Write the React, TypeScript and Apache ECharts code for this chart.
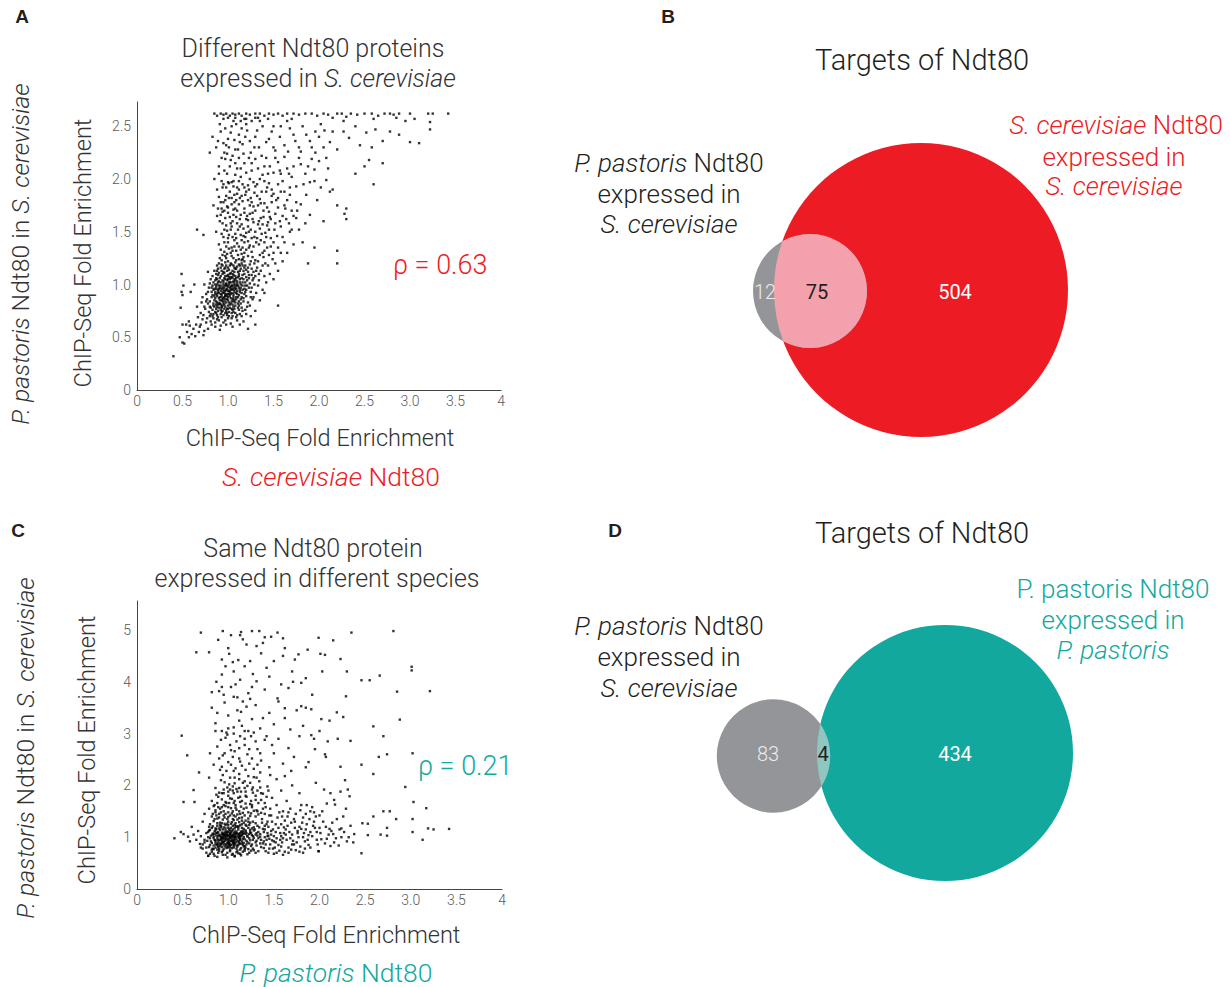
import React, { useEffect, useRef } from "react";
import * as echarts from "echarts";

// ---------- Panel A: S. cerevisiae Ndt80 (x) vs P. pastoris Ndt80 in S. cerevisiae (y)
const aCore: number[][] = [
[0.78,0.58],[0.82,0.62],[0.86,0.60],[0.90,0.66],[0.84,0.68],[0.95,0.64],[0.80,0.70],[0.88,0.71],[0.93,0.69],[1.00,0.68],[1.05,0.70],[0.98,0.62],[0.76,0.64],[0.72,0.67],[1.10,0.66],[0.91,0.57],[0.69,0.60],[0.74,0.56],
[0.79,0.74],[0.83,0.76],[0.87,0.73],[0.90,0.78],[0.94,0.75],[0.97,0.79],[1.01,0.74],[1.04,0.77],[1.08,0.73],[1.12,0.76],[0.85,0.79],[0.92,0.72],[0.99,0.71],[1.06,0.79],[0.81,0.72],[0.75,0.77],[0.89,0.75],[0.96,0.77],[1.15,0.78],[1.02,0.78],[0.70,0.73],
[0.80,0.84],[0.84,0.82],[0.86,0.87],[0.89,0.81],[0.91,0.85],[0.93,0.88],[0.95,0.82],[0.97,0.86],[0.99,0.89],[1.01,0.83],[1.03,0.87],[1.05,0.81],[1.07,0.85],[1.09,0.88],[1.11,0.82],[1.14,0.86],[1.17,0.84],[1.20,0.89],[0.88,0.89],[0.94,0.80],[1.00,0.80],[1.06,0.89],[1.12,0.90],[0.82,0.88],[0.77,0.86],[1.22,0.83],[0.96,0.84],[1.04,0.84],[0.90,0.87],[0.98,0.83],
[0.82,0.93],[0.85,0.96],[0.88,0.91],[0.90,0.99],[0.92,0.94],[0.94,0.97],[0.96,0.92],[0.98,0.95],[1.00,0.98],[1.02,0.93],[1.04,0.96],[1.06,0.91],[1.08,0.99],[1.10,0.94],[1.12,0.97],[1.15,0.92],[1.18,0.96],[1.21,0.99],[1.25,0.93],[0.87,0.98],[0.93,0.90],[0.97,0.99],[1.01,0.91],[1.05,0.99],[1.09,0.92],[1.13,0.95],[0.79,0.97],[0.99,0.96],[1.03,0.98],[0.95,0.95],[1.07,0.95],[1.16,0.99],
[0.84,1.02],[0.87,1.06],[0.90,1.03],[0.92,1.08],[0.95,1.01],[0.97,1.05],[1.00,1.09],[1.02,1.02],[1.04,1.06],[1.06,1.03],[1.08,1.08],[1.10,1.01],[1.13,1.05],[1.16,1.09],[1.19,1.02],[1.23,1.06],[1.27,1.04],[0.94,1.10],[0.99,1.04],[1.05,1.10],[1.11,1.07],[0.89,1.09],[1.01,1.07],[1.07,1.05],[0.81,1.05],[1.30,1.08],
[0.88,1.13],[0.92,1.16],[0.95,1.12],[0.98,1.18],[1.01,1.14],[1.04,1.19],[1.07,1.12],[1.10,1.17],[1.13,1.13],[1.16,1.18],[1.20,1.14],[1.24,1.19],[1.28,1.12],[0.96,1.15],[1.03,1.11],[1.09,1.15],[1.15,1.20],[1.32,1.16],[0.90,1.20],
[0.93,1.23],[0.97,1.27],[1.00,1.22],[1.03,1.30],[1.06,1.25],[1.09,1.32],[1.12,1.24],[1.15,1.29],[1.18,1.22],[1.22,1.27],[1.26,1.31],[1.30,1.23],[1.35,1.28],[1.01,1.34],[1.08,1.21],[1.14,1.33],[0.99,1.29],[1.20,1.33],[1.38,1.30],
[0.91,0.82],[0.93,0.85],[0.96,0.88],[0.99,0.86],[1.02,0.89],[1.05,0.86],[1.08,0.83],[0.87,0.84],[0.94,0.92],[0.97,0.94],[1.00,0.91],[1.03,0.95],[1.06,0.97],[1.09,0.96],[0.89,0.95],[0.91,0.97],[0.95,0.99],[0.98,1.01],[1.01,1.00],[1.04,1.02],[1.07,1.00],[1.10,1.03],[0.92,1.02],[0.96,1.06],[0.99,1.08],[1.02,1.05],[1.05,1.07],[1.08,1.04],[0.86,0.93],[0.83,0.99],[1.14,1.00],[1.17,1.05],[0.94,0.86],[0.90,0.92],[1.00,0.94],[1.11,0.88],[0.97,0.90],[1.03,0.91],[0.88,1.00],[1.12,1.10]
];
const aCore2: number[][] = [
[0.83,0.70],[0.86,0.74],[0.89,0.69],[0.92,0.76],[0.95,0.71],[0.98,0.75],[1.01,0.70],[1.04,0.73],[1.07,0.77],[0.81,0.78],[0.84,0.80],[0.87,0.77],[0.90,0.82],[0.93,0.79],[0.96,0.81],[0.99,0.77],[1.02,0.81],[1.05,0.76],[1.08,0.80],[1.11,0.78],[1.14,0.82],[0.85,0.85],[0.88,0.83],[0.91,0.88],[0.94,0.84],[0.97,0.89],[1.00,0.85],[1.03,0.82],[1.06,0.84],[1.09,0.86],[1.12,0.84],[1.15,0.88],[1.18,0.91],[0.83,0.90],[0.86,0.91],[0.89,0.93],[0.92,0.91],[0.95,0.93],[0.98,0.91],[1.01,0.94],[1.04,0.92],[1.07,0.93],[1.10,0.91],[1.13,0.93],[1.16,0.95],[0.84,0.95],[0.87,0.96],[0.90,0.96],[0.93,0.96],[0.96,0.97],[0.99,0.99],[1.02,0.97],[1.05,0.95],[1.08,0.97],[1.11,0.99],[1.14,0.97],[1.19,0.99],[0.86,1.00],[0.89,1.02],[0.92,0.99],[0.95,1.03],[0.98,1.00],[1.01,1.02],[1.04,0.99],[1.07,1.02],[1.10,0.99],[1.13,1.02],[1.16,1.02],[1.21,1.04],[0.88,1.05],[0.91,1.06],[0.94,1.04],[0.97,1.08],[1.00,1.05],[1.03,1.07],[1.06,1.09],[1.09,1.06],[1.12,1.08],[1.15,1.06],[1.18,1.10],[0.90,1.11],[0.93,1.13],[0.96,1.11],[0.99,1.13],[1.02,1.10],[1.05,1.13],[1.08,1.15],[1.11,1.12],[1.14,1.15],[1.17,1.13],[1.22,1.12],[0.94,1.18],[0.97,1.21],[1.00,1.16],[1.03,1.20],[1.06,1.18],[1.09,1.23],[1.12,1.19],[1.15,1.23],[1.19,1.18],[1.25,1.22],[0.95,0.87],[1.00,0.88],[0.92,0.81],[1.06,0.87],[0.88,0.79],[0.97,0.73],[1.13,0.72],[0.80,0.79],[0.78,0.82],[0.82,0.97],[1.23,0.97],[1.20,1.07],[0.87,1.10],[1.26,1.15],[1.29,1.20],[1.17,1.26],[1.04,1.27],[0.96,1.31]
];
const aMid: number[][] = [
[0.86,0.64],[0.92,0.61],[0.97,0.66],[1.03,0.63],[1.09,0.69],[1.15,0.70],[1.19,0.76],[1.24,0.80],[1.27,0.86],[1.31,0.92],[1.29,1.00],[1.34,1.04],[1.36,1.13],[1.41,1.20],[1.33,1.22],[1.39,1.26],[1.43,1.35],[1.47,1.44],[1.27,1.26],[1.23,1.35],[1.18,1.30],[1.11,1.28],[1.05,1.32],[0.98,1.25],[0.94,1.28],[0.91,1.25],[0.88,1.18],[0.85,1.13],[0.83,1.08],[0.80,1.01],[0.78,0.93],[0.76,0.84],[0.74,0.79],[0.73,0.71],[0.77,0.68],[0.81,0.65],[0.84,0.72],[0.88,0.67],[0.93,0.78],[0.99,0.73],[1.04,0.68],[1.10,0.71],[1.16,0.75],[1.21,0.79],[1.25,0.88],[1.20,0.95],[1.24,1.01],[1.28,1.06],[1.31,1.13],[1.26,1.09],[1.22,1.16],[1.18,1.16],[1.13,1.18],[1.07,1.16],[1.02,1.18],[0.97,1.16],[0.93,1.19],[0.89,1.15],[0.86,1.04],[0.85,0.89],[0.87,0.81],[0.93,0.74],[1.00,0.77],[1.06,0.74],[1.12,0.80],[1.17,0.87],[1.19,0.93],[1.23,1.09],[1.16,1.24],[1.07,1.36],[1.00,1.44],[0.96,1.52],[1.04,1.55],[1.09,1.44],[1.13,1.55],[1.19,1.45],[1.25,1.52],[1.31,1.40],[1.37,1.48],[1.43,1.56],[1.40,1.40],[1.34,1.60],[1.27,1.68],[1.20,1.62],[1.14,1.66],[1.08,1.72],[1.02,1.64],[0.96,1.70],[0.92,1.66],[0.95,1.78],[1.01,1.82],[1.07,1.78],[1.13,1.82],[1.19,1.85],[1.26,1.78],[1.33,1.75],[1.39,1.70],[1.46,1.64],[1.51,1.52],[1.54,1.46],[1.47,1.36],[1.45,1.28],[1.52,1.20],[1.58,1.30],[1.62,1.40],[1.67,1.58],[1.72,1.65],[1.57,1.60],[1.63,1.72],[1.68,1.85],[1.75,1.78],[1.55,1.82],[1.48,1.84],[1.43,1.92],[1.37,1.88],[1.30,1.93],[1.23,1.90],[1.16,1.95],[1.10,1.92],[1.04,1.97],[0.98,1.92],[0.93,1.98],[0.89,1.72]
];
const aLower: number[][] = [
[0.40,0.32],[0.47,0.50],[0.50,0.45],[0.52,0.44],[0.55,0.55],[0.57,0.50],[0.60,0.53],[0.62,0.58],[0.65,0.62],[0.58,0.61],[0.64,0.51],[0.68,0.55],[0.70,0.62],[0.67,0.69],[0.73,0.52],[0.50,0.62],[0.48,0.78],[0.51,0.99],[0.50,0.90],[0.59,0.93],[0.73,1.47],[0.66,0.79],[0.71,0.83],[0.76,0.91],[0.74,1.00],[0.72,0.88],[0.78,1.12],[0.57,0.65],[0.54,0.62],
[1.30,0.75],[1.35,0.85],[1.40,0.92],[1.42,1.02],[1.38,0.95],[1.46,1.10],[1.50,1.05],[1.55,1.13],[1.28,0.88],[1.33,0.99],[1.25,0.70],[1.20,0.72],[1.17,0.65],[1.30,0.62],[1.55,0.80],[1.44,1.18],[1.49,1.24],[1.38,1.18],[1.60,1.22],[1.65,1.30],[1.22,0.58],[1.13,0.62],[1.05,0.60],[1.34,1.10],[1.26,0.97],[1.40,1.08]
];
const aUpper: number[][] = [
[0.90,1.38],[0.95,1.45],[1.00,1.40],[1.03,1.52],[1.07,1.42],[1.10,1.58],[1.14,1.47],[1.18,1.40],[1.22,1.55],[1.26,1.44],[1.30,1.50],[1.34,1.38],[1.38,1.57],[1.42,1.45],[0.98,1.56],[1.05,1.60],[1.12,1.36],[1.20,1.49],[1.28,1.59],[0.87,1.50],[1.45,1.52],[1.50,1.40],[1.52,1.58],[1.17,1.53],[1.01,1.47],[0.94,1.58],[1.08,1.48],[1.15,1.42],[1.24,1.37],[0.96,1.40],[1.32,1.44],
[0.88,1.65],[0.93,1.72],[0.97,1.80],[1.00,1.68],[1.04,1.76],[1.07,1.85],[1.10,1.70],[1.13,1.62],[1.16,1.79],[1.20,1.88],[1.24,1.67],[1.28,1.74],[1.32,1.84],[1.36,1.63],[1.40,1.77],[1.45,1.69],[1.50,1.86],[1.55,1.73],[1.60,1.65],[1.65,1.80],[1.70,1.70],[1.02,1.88],[0.90,1.83],[1.12,1.90],[1.25,1.82],[1.47,1.62],[1.58,1.88],[1.75,1.63],[1.80,1.76],[1.90,1.66],[0.84,1.75],[1.06,1.66],[1.18,1.72],[0.99,1.74],[1.09,1.80],[1.22,1.61],
[0.85,2.00],[0.90,2.12],[0.95,1.95],[0.99,2.05],[1.03,2.18],[1.06,1.98],[1.10,2.10],[1.14,2.02],[1.18,2.15],[1.22,1.94],[1.26,2.08],[1.30,2.19],[1.35,2.00],[1.40,2.12],[1.45,1.96],[1.50,2.06],[1.55,2.16],[1.60,1.98],[1.65,2.10],[1.70,2.02],[1.75,1.93],[1.80,2.14],[1.85,2.05],[1.90,1.97],[1.95,2.09],[2.00,2.17],[2.08,1.99],[1.12,2.20],[0.97,2.19],[1.28,1.97],[1.42,2.20],[1.62,2.21],[1.78,2.20],[1.92,2.19],[2.02,1.92],[2.20,1.75],[2.15,1.90],[2.10,2.10],[0.80,2.25],[1.70,1.52],[1.08,2.04],[1.01,1.96],
[0.87,2.30],[0.92,2.45],[0.96,2.25],[1.00,2.38],[1.04,2.50],[1.08,2.28],[1.12,2.42],[1.16,2.33],[1.20,2.52],[1.25,2.25],[1.30,2.40],[1.34,2.30],[1.38,2.50],[1.42,2.35],[1.48,2.45],[1.52,2.27],[1.57,2.40],[1.62,2.32],[1.68,2.48],[1.74,2.36],[1.80,2.26],[1.86,2.42],[1.92,2.30],[2.00,2.40],[2.06,2.46],[2.12,2.35],[2.20,2.28],[2.27,2.45],[2.33,2.39],[2.40,2.50],[2.45,2.32],[2.52,2.44],[2.58,2.30],[2.62,2.47],[2.70,2.36],[2.78,2.45],[2.88,2.42],[3.00,2.35],[3.10,2.34],[3.22,2.47],[2.95,2.55],[0.83,2.40],[1.06,2.55],[1.26,2.55],[2.27,2.55],[2.50,2.12],[2.55,2.18],[2.70,2.15],[2.60,1.95],[2.28,1.67],[2.30,1.62],[2.20,1.32],[1.88,1.20],[1.95,1.35],[2.20,1.20],[1.55,1.35],[1.60,1.45],[1.68,1.50],[1.72,1.38],[1.78,1.52],[1.82,1.40],[1.85,1.58],[1.50,1.30],[1.40,1.32],[2.05,1.60],[2.12,1.88],[1.98,1.80],[2.30,1.72],[2.40,2.05],[2.05,2.30],[1.96,2.45],[0.66,1.52],[0.49,1.10],[0.49,0.93],[0.63,1.00],[1.15,2.48],[0.98,2.32]
];
const aUpper2: number[][] = [
[0.92,1.33],[0.98,1.36],[1.04,1.35],[1.10,1.39],[1.16,1.35],[1.22,1.41],[1.28,1.36],[1.36,1.42],[0.93,1.48],[0.99,1.51],[1.05,1.45],[1.11,1.52],[1.17,1.46],[1.23,1.50],[1.29,1.45],[1.35,1.53],[1.41,1.49],[0.91,1.60],[0.97,1.63],[1.03,1.58],[1.09,1.64],[1.15,1.57],[1.21,1.65],[1.27,1.62],[1.33,1.57],[1.39,1.64],[1.44,1.59],[0.94,1.69],[1.00,1.73],[1.06,1.71],[1.12,1.76],[1.18,1.68],[1.24,1.75],[1.30,1.70],[1.36,1.77],[1.43,1.73],[1.52,1.67],[0.92,1.78],[0.98,1.84],[1.04,1.82],[1.10,1.86],[1.15,1.84],[1.22,1.80],[1.29,1.87],[1.35,1.81],[1.42,1.88],[1.53,1.80],[1.62,1.75],[0.88,1.90],[0.94,1.92],[1.00,1.97],[1.06,1.93],[1.12,1.98],[1.18,1.92],[1.24,2.00],[1.32,1.95],[1.38,2.04],[1.48,1.90],[1.58,2.05],[1.68,1.92],[0.90,2.05],[0.96,2.08],[1.02,2.12],[1.08,2.15],[1.14,2.10],[1.20,2.06],[1.26,2.15],[1.33,2.10],[1.46,2.12],[1.57,2.08],[1.72,2.12],[1.83,1.95],[0.93,2.20],[0.99,2.24],[1.05,2.22],[1.11,2.28],[1.17,2.24],[1.23,2.20],[1.29,2.30],[1.37,2.22],[1.52,2.20],[1.66,2.26],[1.88,2.12],[0.89,2.36],[0.95,2.34],[1.01,2.30],[1.07,2.37],[1.13,2.35],[1.19,2.40],[1.24,2.36],[1.32,2.46],[1.45,2.38],[1.58,2.50],[1.72,2.42],[1.90,2.36],[0.91,2.52],[0.97,2.48],[1.03,2.44],[1.09,2.52],[1.14,2.55],[1.21,2.46],[1.35,2.55],[1.50,2.50],[1.65,2.55],[1.82,2.50],[2.02,2.52],[2.15,2.45],[1.40,1.98],[1.44,2.05],[1.55,1.95],[1.62,1.88],[1.48,1.78],[1.58,1.55],[1.64,1.62],[1.76,1.70],[1.86,1.85],[1.95,1.98],[1.67,2.05],[1.78,2.30],[1.96,2.25],[2.08,2.20],[1.50,2.30],[1.30,2.58],[1.08,2.58],[0.95,2.57],[1.20,2.57],[1.44,2.57]
];
const aTop: number[][] = [
[0.85,2.62],[0.88,2.60],[0.92,2.62],[0.95,2.61],[0.98,2.62],[1.02,2.60],[1.05,2.62],[1.08,2.61],[1.12,2.62],[1.15,2.60],[1.20,2.62],[1.24,2.61],[1.30,2.62],[1.35,2.62],[1.40,2.60],[1.45,2.62],[1.50,2.61],[1.55,2.62],[1.60,2.60],[1.65,2.62],[1.72,2.62],[1.78,2.61],[1.85,2.62],[1.92,2.62],[1.98,2.60],[2.05,2.62],[2.10,2.61],[2.20,2.62],[2.25,2.62],[2.35,2.62],[2.42,2.61],[2.50,2.62],[2.58,2.62],[2.65,2.60],[2.72,2.62],[2.78,2.62],[2.82,2.61],[2.88,2.62],[3.00,2.62],[3.20,2.62],[3.25,2.62],[3.42,2.62],[1.00,2.58],[1.18,2.57],[1.33,2.58],[1.70,2.57],[2.15,2.58],[2.30,2.59],[2.60,2.57],[3.05,2.57],[3.22,2.54],[2.85,2.58]
];

// ---------- Panel C: P. pastoris Ndt80 in P. pastoris (x) vs in S. cerevisiae (y)
const cCore: number[][] = [
[0.78,0.64],[0.84,0.68],[0.88,0.62],[0.93,0.71],[0.97,0.66],[1.02,0.73],[1.07,0.63],[1.11,0.69],[1.16,0.72],[1.21,0.67],[0.90,0.74],[1.05,0.68],[1.25,0.74],[0.82,0.72],[1.30,0.70],[0.99,0.61],[1.14,0.65],[0.76,0.70],
[0.76,0.80],[0.80,0.85],[0.83,0.78],[0.86,0.88],[0.89,0.81],[0.92,0.86],[0.95,0.77],[0.98,0.84],[1.01,0.89],[1.04,0.79],[1.07,0.87],[1.10,0.82],[1.13,0.76],[1.16,0.85],[1.19,0.80],[1.23,0.88],[1.27,0.78],[1.31,0.84],[1.36,0.81],[0.88,0.76],[0.94,0.90],[1.00,0.80],[1.06,0.83],[1.12,0.89],[1.18,0.77],[0.72,0.86],[1.41,0.86],[1.02,0.86],[0.96,0.82],[1.09,0.78],
[0.74,0.95],[0.78,1.00],[0.81,0.92],[0.84,0.98],[0.87,1.03],[0.90,0.94],[0.92,1.00],[0.95,0.96],[0.97,1.04],[1.00,0.92],[1.02,0.99],[1.04,1.03],[1.06,0.95],[1.08,1.01],[1.10,0.93],[1.12,0.98],[1.15,1.04],[1.18,0.96],[1.21,1.01],[1.24,0.94],[1.28,0.99],[1.32,1.03],[1.36,0.95],[1.40,1.00],[0.93,0.92],[0.99,1.02],[1.05,0.91],[1.11,1.03],[0.86,0.94],[1.17,1.00],[1.26,1.04],[0.70,1.02],[1.45,0.97],[1.01,0.95],[1.07,0.98],[0.96,1.00],[1.13,0.95],
[0.76,1.08],[0.80,1.14],[0.83,1.07],[0.86,1.17],[0.89,1.10],[0.92,1.19],[0.94,1.06],[0.97,1.13],[1.00,1.18],[1.03,1.09],[1.05,1.15],[1.08,1.07],[1.11,1.19],[1.14,1.11],[1.17,1.16],[1.20,1.08],[1.24,1.14],[1.28,1.19],[1.33,1.10],[1.38,1.16],[0.98,1.07],[1.02,1.13],[1.07,1.17],[0.91,1.14],[1.12,1.06],[1.22,1.18],[1.43,1.08],[0.85,1.11],[1.00,1.10],[1.16,1.12],
[0.80,1.25],[0.84,1.31],[0.88,1.22],[0.91,1.28],[0.94,1.34],[0.97,1.23],[1.00,1.30],[1.03,1.26],[1.06,1.33],[1.09,1.21],[1.12,1.29],[1.15,1.25],[1.19,1.32],[1.23,1.24],[1.27,1.30],[1.32,1.22],[1.37,1.28],[0.99,1.35],[1.05,1.22],[0.93,1.27],[1.42,1.25],[1.10,1.34],
[0.82,1.40],[0.86,1.52],[0.90,1.45],[0.93,1.58],[0.96,1.38],[1.00,1.48],[1.03,1.56],[1.06,1.42],[1.09,1.53],[1.12,1.37],[1.16,1.47],[1.20,1.57],[1.24,1.41],[1.28,1.51],[1.33,1.44],[1.38,1.55],[0.97,1.60],[1.14,1.59],[0.88,1.36],[1.05,1.50],[1.45,1.42],[0.79,1.55],
[0.91,0.88],[0.95,0.91],[0.98,0.97],[1.01,1.04],[1.04,0.93],[1.07,1.11],[0.89,1.02],[0.96,1.09],[1.03,1.00],[1.09,0.90],[1.13,1.08],[0.87,0.85],[0.93,1.05],[0.99,0.89],[1.06,1.05],[1.15,0.88],[1.02,0.81],[0.85,1.06],[1.19,1.06],[0.94,0.99]
];
const cCore2: number[][] = [
[0.82,0.76],[0.86,0.80],[0.90,0.78],[0.94,0.74],[0.98,0.79],[1.02,0.76],[1.06,0.80],[1.10,0.74],[1.14,0.79],[1.18,0.83],[1.22,0.77],[0.84,0.84],[0.88,0.87],[0.91,0.83],[0.95,0.86],[0.99,0.82],[1.03,0.85],[1.07,0.89],[1.11,0.85],[1.15,0.92],[1.20,0.86],[1.25,0.83],[0.82,0.89],[0.86,0.92],[0.89,0.90],[0.92,0.95],[0.96,0.93],[1.00,0.97],[1.03,0.93],[1.06,0.91],[1.09,0.96],[1.12,0.92],[1.16,0.97],[1.20,0.93],[1.23,0.98],[1.30,0.90],[0.80,0.98],[0.84,1.01],[0.88,0.98],[0.91,1.03],[0.94,1.01],[0.97,0.98],[1.00,1.02],[1.02,1.06],[1.05,1.01],[1.08,1.04],[1.11,1.00],[1.14,1.03],[1.17,1.08],[1.21,1.03],[1.25,1.08],[1.30,1.05],[0.83,1.05],[0.87,1.08],[0.90,1.05],[0.93,1.09],[0.96,1.04],[0.99,1.11],[1.03,1.03],[1.06,1.08],[1.09,1.11],[1.12,1.04],[1.15,1.09],[1.19,1.13],[1.24,1.10],[0.86,1.13],[0.90,1.17],[0.94,1.15],[0.97,1.17],[1.01,1.15],[1.04,1.12],[1.08,1.20],[1.11,1.15],[1.15,1.18],[1.20,1.22],[1.26,1.17],[0.82,1.18],[0.88,1.27],[0.92,1.22],[0.96,1.26],[1.00,1.23],[1.04,1.29],[1.08,1.27],[1.13,1.23],[1.17,1.28],[1.22,1.30],[1.30,1.27],[0.85,1.35],[0.90,1.38],[0.95,1.42],[1.00,1.39],[1.05,1.35],[1.10,1.44],[1.15,1.38],[1.22,1.36],[1.30,1.40],[0.98,0.94],[1.01,0.90],[1.04,0.96],[1.07,0.94],[0.95,1.07],[0.99,1.05],[1.02,1.00],[1.05,1.04],[1.08,1.00],[0.93,0.97],[0.97,1.02],[1.10,1.07],[1.13,0.97],[0.89,0.95],[1.06,0.86],[0.93,0.88],[1.17,0.89],[1.00,0.87],[1.27,0.95],[1.33,0.98],[1.35,1.06],[1.28,1.13],[0.78,1.10],[0.74,0.90],[0.79,1.20],[0.72,0.78]
];
const cMid: number[][] = [
[0.80,0.68],[0.85,0.64],[0.89,0.70],[0.94,0.66],[0.99,0.70],[1.04,0.66],[1.09,0.71],[1.13,0.68],[1.18,0.74],[1.23,0.70],[1.28,0.75],[1.33,0.73],[0.79,0.81],[0.84,0.77],[0.89,0.85],[0.93,0.81],[0.97,0.87],[1.01,0.84],[1.05,0.88],[1.09,0.84],[1.13,0.87],[1.17,0.82],[1.21,0.90],[1.26,0.86],[1.31,0.93],[1.35,0.88],[1.39,0.92],[0.77,0.93],[0.81,1.03],[0.85,0.95],[0.88,1.08],[0.92,0.98],[0.95,1.05],[0.98,1.09],[1.02,1.08],[1.06,1.00],[1.09,1.08],[1.13,1.01],[1.16,1.06],[1.19,1.11],[1.23,1.06],[1.27,1.02],[1.31,1.08],[1.35,1.01],[1.39,1.10],[1.43,1.02],[0.79,1.13],[0.83,1.21],[0.87,1.16],[0.91,1.23],[0.95,1.19],[0.99,1.26],[1.03,1.18],[1.07,1.24],[1.11,1.21],[1.15,1.32],[1.19,1.24],[1.24,1.28],[1.29,1.15],[1.34,1.19],[1.40,1.22],[0.83,1.45],[0.87,1.42],[0.92,1.48],[0.97,1.45],[1.02,1.42],[1.08,1.40],[1.13,1.45],[1.18,1.42],[1.25,1.46],[1.32,1.50],[1.40,1.45],[0.84,1.60],[0.89,1.58],[0.95,1.62],[1.01,1.66],[1.07,1.70],[1.13,1.78],[1.19,1.65],[1.26,1.62],[1.33,1.66],[1.41,1.58],[0.87,1.82],[0.93,1.85],[0.99,1.96],[1.05,1.90],[1.12,1.95],[1.19,1.88],[1.27,1.96],[1.36,1.85],[1.44,1.90],[1.47,1.12],[1.50,1.02],[1.52,0.90],[1.55,1.18],[1.58,0.82],[1.61,1.08],[1.65,1.22],[1.68,0.98],[1.72,0.86],[1.76,1.08],[1.80,1.16],[1.84,0.92],[1.88,1.04],[1.93,1.22],[1.97,1.10],[2.02,0.96],[2.07,1.20],[2.13,1.12],[1.46,1.55],[1.53,1.62],[1.59,1.40],[1.66,1.48],[1.73,1.30],[1.79,1.52],[1.86,1.62],[1.94,1.48],[1.44,0.70],[1.49,0.78],[1.57,0.95],[1.60,0.66],[1.69,0.76],[1.82,0.70],[1.90,0.80]
];
const cArm: number[][] = [
[1.45,0.78],[1.50,0.92],[1.52,1.10],[1.55,0.85],[1.58,1.25],[1.60,0.98],[1.63,1.15],[1.66,0.80],[1.70,1.05],[1.72,1.35],[1.75,0.90],[1.78,1.20],[1.82,1.00],[1.85,1.45],[1.88,0.85],[1.90,1.10],[1.94,1.30],[1.97,0.95],[2.00,1.18],[2.03,1.50],[2.06,0.88],[2.10,1.05],[2.14,1.28],[2.18,0.98],[2.22,1.15],[2.26,1.40],[2.30,0.92],[2.34,1.22],[2.38,1.06],[1.48,1.30],[1.56,1.48],[1.62,0.72],[1.68,1.55],[1.74,0.75],[1.80,1.62],[1.92,1.58],[2.08,1.65],[1.47,1.05],[1.53,0.70],[1.65,1.40],[1.84,0.78],[1.99,0.73],[2.16,1.72],[2.24,1.00],[1.58,1.02],[1.76,1.12],[1.44,1.20],[1.62,1.32],[1.86,1.25],[1.50,0.68],[1.96,1.40],[2.12,0.83],[1.70,0.86],[1.54,1.38],[1.41,0.73],[1.82,1.38],
[1.38,0.88],[1.42,0.95],[1.44,1.03],[1.46,0.86],[1.49,1.15],[1.51,0.80],[1.53,0.98],[1.57,1.08],[1.59,0.90],[1.61,1.19],[1.64,0.95],[1.67,1.10],[1.69,1.28],[1.71,0.93],[1.73,1.18],[1.77,1.00],[1.79,0.82],[1.81,1.28],[1.83,1.08],[1.87,0.95],[1.89,1.35],[1.92,1.02],[1.95,1.18],[1.98,0.86],[2.01,1.08],[2.04,1.30],[2.08,0.97],[2.11,1.16],[2.15,1.06],[2.19,1.35],[2.21,0.84],[2.27,1.10],[1.40,1.15],[1.43,1.30],[1.47,1.42],[1.52,1.25],[1.56,0.74],[1.60,1.50],[1.66,0.70],[1.74,1.45],[1.78,0.72],[1.90,1.50],[2.00,1.42],[1.37,1.35],[1.39,0.79],[1.48,0.94],[1.63,1.05],[1.85,1.15]
];
const cColumn: number[][] = [
[0.82,1.70],[0.86,1.95],[0.89,1.78],[0.92,2.10],[0.95,1.85],[0.98,1.66],[1.01,2.02],[1.04,1.74],[1.07,2.15],[1.10,1.88],[1.13,1.68],[1.16,2.05],[1.19,1.80],[1.22,2.18],[1.26,1.92],[1.30,1.72],[1.34,2.08],[1.38,1.84],[1.43,1.98],[1.48,1.76],[1.53,2.12],[1.58,1.90],[1.64,1.70],[1.70,2.00],[0.94,2.20],[1.02,1.92],[1.08,1.62],[1.18,1.95],[1.28,2.16],[1.40,1.66],[0.85,1.62],[1.12,2.22],[1.24,1.64],[1.00,1.80],[1.46,2.20],[1.78,1.85],[1.62,2.18],[1.06,1.85],[1.32,1.90],
[0.84,2.40],[0.88,2.75],[0.91,2.30],[0.94,2.58],[0.97,2.92],[1.00,2.45],[1.03,2.68],[1.06,2.28],[1.09,2.85],[1.12,2.52],[1.15,2.38],[1.18,2.78],[1.21,2.60],[1.25,2.95],[1.28,2.32],[1.32,2.70],[1.36,2.48],[1.40,2.88],[1.45,2.35],[1.50,2.62],[1.55,2.90],[1.60,2.42],[1.66,2.72],[1.72,2.55],[0.80,2.62],[0.99,2.98],[1.05,2.55],[1.23,2.42],[1.48,2.78],[1.78,2.95],[1.85,2.35],[1.69,2.28],[0.92,2.88],[1.13,2.95],[1.35,2.25],
[0.82,3.50],[0.86,3.20],[0.90,3.82],[0.93,3.05],[0.96,3.60],[1.00,3.35],[1.03,3.90],[1.06,3.12],[1.10,3.70],[1.14,3.42],[1.18,3.05],[1.22,3.78],[1.26,3.28],[1.30,3.55],[1.35,3.10],[1.40,3.85],[1.45,3.40],[1.50,3.18],[1.55,3.62],[1.62,3.30],[1.68,3.08],[1.75,3.45],[0.98,3.02],[1.08,3.95],[1.20,3.52],[1.38,3.30],[1.58,3.95],[0.88,3.40],[1.28,3.02],[1.12,3.25],
[0.70,4.95],[0.94,4.98],[1.03,4.90],[1.13,4.90],[1.14,4.96],[1.26,4.98],[1.34,4.98],[1.54,4.95],[1.40,4.86],[1.47,4.87],[1.60,4.84],[0.89,4.81],[0.65,4.57],[0.79,4.57],[1.01,4.54],[1.20,4.72],[1.31,4.69],[1.62,4.65],[1.77,4.53],[1.73,4.43],[1.60,4.50],[0.93,4.43],[1.11,4.42],[1.24,4.40],[1.42,4.27],[1.50,4.40],[0.93,4.14],[1.06,4.20],[1.13,4.04],[1.31,4.01],[1.71,4.00],[1.80,3.98],[1.85,4.07],[0.82,3.80],[0.93,3.90],[1.06,3.71],[1.24,3.67],[1.54,3.68],[1.62,3.49],[1.80,3.53],[1.85,3.50],[1.91,3.47],[1.18,4.30],[1.36,4.55],[1.00,4.65],[1.27,4.15],[0.97,4.30],[1.45,4.10],[1.16,4.82],[1.38,4.75]
];
const cColumn2: number[][] = [
[0.86,1.48],[0.91,1.55],[0.95,1.50],[1.00,1.58],[1.04,1.46],[1.08,1.57],[1.12,1.50],[1.17,1.55],[1.22,1.48],[1.26,1.58],[1.31,1.52],[1.36,1.47],[0.88,1.66],[0.93,1.73],[0.97,1.68],[1.02,1.75],[1.06,1.66],[1.11,1.76],[1.15,1.70],[1.20,1.78],[1.25,1.70],[1.30,1.80],[1.36,1.72],[1.42,1.78],[0.90,1.86],[0.95,1.92],[1.00,1.88],[1.05,1.98],[1.09,1.93],[1.14,1.88],[1.21,1.99],[1.27,1.86],[1.35,1.96],[0.96,2.06],[1.02,2.15],[1.07,2.04],[1.12,2.12],[1.18,2.08],[1.24,2.05],[1.31,2.15],[0.93,2.36],[0.98,2.28],[1.03,2.40],[1.08,2.33],[1.13,2.46],[1.19,2.30],[1.26,2.52],[1.32,2.40],[0.96,2.62],[1.02,2.78],[1.07,2.66],[1.12,2.72],[1.18,2.90],[1.23,2.70],[1.30,2.85],[0.90,2.52],[1.00,3.10],[1.06,3.00],[1.15,3.15],[1.22,3.05],[1.35,2.62],[1.42,2.95],[0.86,3.05],[1.10,3.45],[0.95,3.75],[1.26,3.90],[1.16,3.62],[1.05,4.38],[0.87,4.00]
];
const cSparse: number[][] = [
[2.81,4.98],[2.35,4.95],[3.01,4.29],[3.01,4.22],[3.21,3.82],[2.85,3.81],[2.88,3.27],[2.59,3.14],[2.70,2.95],[3.02,2.62],[2.74,2.60],[2.65,2.55],[2.46,2.40],[2.59,2.22],[2.94,1.97],[3.03,1.68],[3.17,1.56],[2.70,1.50],[2.77,1.50],[2.84,1.35],[2.59,1.40],[3.02,1.35],[3.19,1.17],[3.25,1.15],[3.42,1.16],[3.13,0.95],[3.02,1.10],[2.46,0.69],[2.37,0.90],[2.53,1.04],[2.47,1.27],[2.53,1.26],[2.74,1.18],[2.74,1.03],[2.67,1.05],[2.32,1.00],[2.16,0.90],[2.24,1.17],[1.99,0.73],[1.99,4.85],[2.15,4.80],[2.01,4.54],[2.06,4.52],[2.23,4.44],[2.03,4.20],[2.30,4.20],[2.46,4.03],[2.55,4.03],[2.66,4.12],[2.29,3.72],[2.02,3.28],[2.11,3.25],[2.19,3.41],[2.26,3.32],[2.09,2.85],[2.20,2.90],[2.34,2.86],[2.06,2.60],[2.07,2.55],[2.23,2.36],[2.28,2.10],[2.31,1.92],[2.33,1.79],[2.29,1.55],[2.17,1.63],[2.23,1.88],[1.96,2.05],[2.05,1.92],[2.12,1.85],[1.94,2.90],[1.91,2.97],[0.49,2.96],[0.55,2.58],[0.68,2.25],[0.62,1.91],[0.63,1.68],[0.51,1.68],[0.79,2.15],[0.41,0.98],[0.48,1.10],[0.51,1.06],[0.56,1.01],[0.69,0.87],[0.78,0.64],[1.07,0.64],[0.60,1.20],[0.65,0.95],[0.67,1.12],[0.72,1.30],[0.70,0.80],[0.62,1.05],[0.74,1.45],[0.58,0.92],[1.88,2.45],[1.95,2.70],[2.00,3.05],[1.82,3.15],[1.92,3.75],[1.70,4.20],[1.87,4.62],[1.66,3.88]
];

// ---------- Venn counts: [only left set, overlap, only right set]
const vennBCounts = [12, 75, 504];
const vennDCounts = [83, 4, 434];
const rhoA = 0.63;
const rhoC = 0.21;

const RED = "#ED1C24";
const TEAL = "#13A89E";
const GREY = "#939598";
const PINK = "#F4A1AE";
const LTEAL = "#8FC6C0";
const DARK = "#231F20";
const TXT = "#333333";

const SC_FONT = "Roboto, 'Liberation Sans', sans-serif";
const VN_FONT = "Roboto, 'Liberation Sans', sans-serif";

function txt(x: number, y: number, text: string, size: number, color: string, o: any = {}) {
  const family = o.family || SC_FONT;
  const weight = o.weight || 300;
  const align = o.align || "center";
  return {
    type: "text",
    x,
    y,
    rotation: o.rotation || 0,
    scaleX: o.scaleX || 1,
    z: 20,
    style: {
      text,
      x: 0,
      y: 0,
      fill: color,
      fontSize: size,
      fontFamily: family,
      fontWeight: weight,
      fontStyle: o.italic ? "italic" : "normal",
      align,
      textAlign: align,
      verticalAlign: "middle",
      textVerticalAlign: "middle",
      rich: {
        i: { fontStyle: "italic", fontSize: size, fontFamily: family, fontWeight: weight, fill: color },
      },
    },
  };
}

function lensPath(c1: number[], c2: number[]) {
  const [x1, y1, r1] = c1;
  const [x2, y2, r2] = c2;
  const dx = x2 - x1, dy = y2 - y1;
  const d = Math.sqrt(dx * dx + dy * dy);
  const a = (d * d + r1 * r1 - r2 * r2) / (2 * d);
  const h = Math.sqrt(Math.max(r1 * r1 - a * a, 0));
  const ux = dx / d, uy = dy / d;
  const mx = x1 + ux * a, my = y1 + uy * a;
  const p1 = [mx + uy * h, my - ux * h];
  const p2 = [mx - uy * h, my + ux * h];
  const large1 = a < 0 ? 1 : 0;
  const large2 = d - a < 0 ? 1 : 0;
  return `M${p1[0]} ${p1[1]} A${r1} ${r1} 0 ${large1} 1 ${p2[0]} ${p2[1]} A${r2} ${r2} 0 ${large2} 1 ${p1[0]} ${p1[1]} Z`;
}

function tickFmt(step: number) {
  return (v: number) => {
    if (Math.abs(v / step - Math.round(v / step)) > 1e-6) return "";
    if (v === 0) return "0";
    if (step === 1) return String(Math.round(v));
    return Math.abs(v - 4) < 1e-9 ? "4" : v.toFixed(1);
  };
}

export default function App() {
  const ref = useRef<HTMLDivElement>(null);
  useEffect(() => {
    document.body.style.margin = "0";
    const chart = echarts.init(ref.current!, null, { renderer: "svg" });

    const cB1 = [810, 291, 57];
    const cB2 = [921, 290, 147];
    const cD1 = [773.5, 756, 56.7];
    const cD2 = [945, 753, 128];
    echarts.graphic.registerShape("lensB", echarts.graphic.extendPath(lensPath(cB1, cB2), {}) as any);
    echarts.graphic.registerShape("lensD", echarts.graphic.extendPath(lensPath(cD1, cD2), {}) as any);

    const axisLabel = (step: number, margin: number) => ({
      color: "#58595b",
      fontSize: 14,
      fontFamily: SC_FONT,
      fontWeight: 300,
      margin,
      formatter: tickFmt(step),
    });
    const axisLine = { show: true, lineStyle: { color: "#444", width: 1 } };

    const xAxisCommon = {
      type: "value",
      min: 0,
      max: 4,
      interval: 0.5,
      axisLine,
      axisTick: { show: false },
      splitLine: { show: false },
      axisLabel: axisLabel(0.5, 4),
    };

    const vn = (x: number, y: number, t: string, size: number, color: string, w: any = 300) =>
      txt(x, y, t, size, color, { family: VN_FONT, weight: w });

    const graphic: any[] = [
      // panel letters
      txt(22, 16, "A", 19, DARK, { family: "'Liberation Sans', sans-serif", weight: "bold" }),
      txt(668, 16, "B", 19, DARK, { family: "'Liberation Sans', sans-serif", weight: "bold" }),
      txt(18, 530, "C", 19, DARK, { family: "'Liberation Sans', sans-serif", weight: "bold" }),
      txt(615, 530, "D", 19, DARK, { family: "'Liberation Sans', sans-serif", weight: "bold" }),

      // Panel A texts
      txt(313, 48, "Different Ndt80 proteins", 25, TXT),
      txt(318, 78, "expressed in {i|S. cerevisiae}", 25, TXT),
      txt(20, 254, "{i|P. pastoris} Ndt80 in {i|S. cerevisiae}", 24.7, TXT, { rotation: Math.PI / 2 }),
      txt(83, 253, "ChIP-Seq Fold Enrichment", 23.5, TXT, { rotation: Math.PI / 2 }),
      txt(320, 438, "ChIP-Seq Fold Enrichment", 23.5, TXT),
      txt(331, 476, "{i|S. cerevisiae} Ndt80", 26.5, RED),
      txt(393, 265, "ρ = " + rhoA.toFixed(2), 27, RED, { align: "left" }),

      // Panel C texts
      txt(313, 548, "Same Ndt80 protein", 25, TXT),
      txt(317, 578, "expressed in different species", 25, TXT),
      txt(25, 748, "{i|P. pastoris} Ndt80 in {i|S. cerevisiae}", 24.7, TXT, { rotation: Math.PI / 2 }),
      txt(87, 750, "ChIP-Seq Fold Enrichment", 23.5, TXT, { rotation: Math.PI / 2 }),
      txt(326, 935, "ChIP-Seq Fold Enrichment", 23.5, TXT),
      txt(336, 972, "{i|P. pastoris} Ndt80", 26.5, TEAL),
      txt(418, 766, "ρ = " + rhoC.toFixed(2), 27, TEAL, { align: "left" }),

      // Venn B
      { type: "circle", z: 5, shape: { cx: cB2[0], cy: cB2[1], r: cB2[2] }, style: { fill: RED } },
      { type: "circle", z: 6, shape: { cx: cB1[0], cy: cB1[1], r: cB1[2] }, style: { fill: GREY } },
      { type: "lensB", z: 7, x: 0, y: 0, style: { fill: PINK } },
      vn(922, 60, "Targets of Ndt80", 29, DARK),
      vn(669, 163, "{i|P. pastoris} Ndt80", 26, DARK),
      vn(669, 194, "expressed in", 26, DARK),
      vn(669, 224, "{i|S. cerevisiae}", 26, DARK),
      vn(1116, 125, "{i|S. cerevisiae} Ndt80", 26, RED),
      vn(1114, 157, "expressed in", 26, RED),
      vn(1114, 186, "{i|S. cerevisiae}", 26, RED),
      vn(765, 292, String(vennBCounts[0]), 20, "#ececec"),
      vn(817, 292, String(vennBCounts[1]), 20, DARK, 400),
      vn(955, 292, String(vennBCounts[2]), 20, "#ffffff", 400),

      // Venn D
      { type: "circle", z: 5, shape: { cx: cD2[0], cy: cD2[1], r: cD2[2] }, style: { fill: TEAL } },
      { type: "circle", z: 6, shape: { cx: cD1[0], cy: cD1[1], r: cD1[2] }, style: { fill: GREY } },
      { type: "lensD", z: 7, x: 0, y: 0, style: { fill: LTEAL } },
      vn(922, 533, "Targets of Ndt80", 29, DARK),
      vn(669, 626, "{i|P. pastoris} Ndt80", 26, DARK),
      vn(669, 657, "expressed in", 26, DARK),
      vn(669, 688, "{i|S. cerevisiae}", 26, DARK),
      vn(1113, 589, "P. pastoris Ndt80", 26, TEAL),
      vn(1113, 620, "expressed in", 26, TEAL),
      vn(1113, 650, "{i|P. pastoris}", 26, TEAL),
      vn(768, 754, String(vennDCounts[0]), 20, "#ececec"),
      vn(823, 754, String(vennDCounts[1]), 20, DARK, 400),
      vn(955, 754, String(vennDCounts[2]), 20, "#ffffff", 400),
    ];

    const option: any = {
      animation: false,
      backgroundColor: "#ffffff",
      grid: [
        { left: 137, top: 102, width: 364, height: 288 },
        { left: 137, top: 601, width: 365, height: 288 },
      ],
      xAxis: [
        { ...xAxisCommon, gridIndex: 0 },
        { ...xAxisCommon, gridIndex: 1 },
      ],
      yAxis: [
        {
          type: "value", gridIndex: 0, min: 0, max: 2.73, interval: 0.5,
          axisLine, axisTick: { show: false }, splitLine: { show: false },
          axisLabel: axisLabel(0.5, 6),
        },
        {
          type: "value", gridIndex: 1, min: 0, max: 5.56, interval: 1,
          axisLine, axisTick: { show: false }, splitLine: { show: false },
          axisLabel: axisLabel(1, 6),
        },
      ],
      series: [
        {
          type: "scatter", xAxisIndex: 0, yAxisIndex: 0, symbol: "rect", symbolSize: 2.4,
          itemStyle: { color: "#000" }, silent: true,
          data: [...aCore, ...aCore2, ...aMid, ...aLower, ...aUpper, ...aUpper2, ...aTop],
        },
        {
          type: "scatter", xAxisIndex: 1, yAxisIndex: 1, symbol: "rect", symbolSize: 2.4,
          itemStyle: { color: "#000" }, silent: true,
          data: [...cCore, ...cCore2, ...cMid, ...cArm, ...cColumn, ...cColumn2, ...cSparse],
        },
      ],
      graphic,
    };
    chart.setOption(option);
    return () => chart.dispose();
  }, []);
  return <div ref={ref} style={{ width: 1230, height: 987 }} />;
}
